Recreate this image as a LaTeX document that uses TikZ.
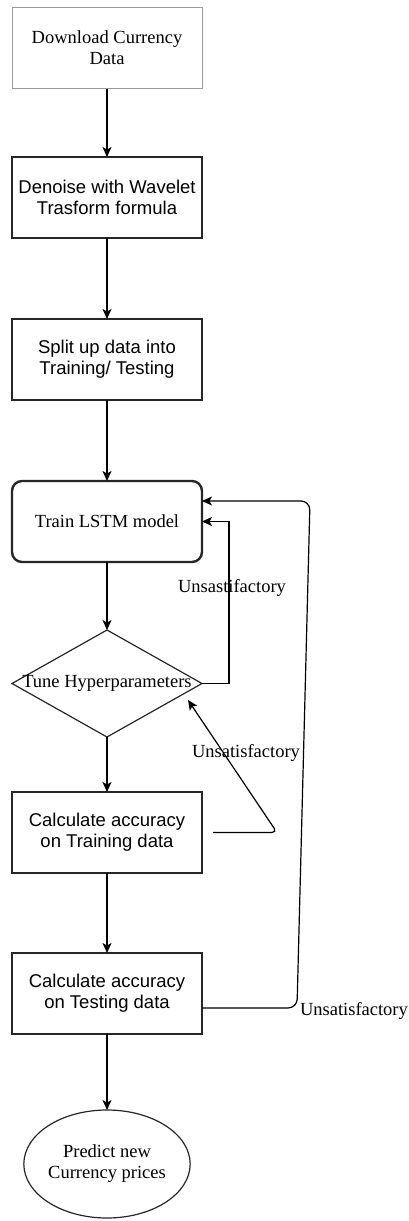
\documentclass[tikz,border=0pt]{standalone}
\usepackage{fontspec}
\setmainfont{Liberation Serif}
\setsansfont{Liberation Sans}
\usetikzlibrary{shapes.geometric,arrows.meta,calc}

\begin{document}
\begin{tikzpicture}[y=1pt, x=1pt, yscale=-1, inner sep=0pt, outer sep=0pt,
	font=\fontsize{18.5}{21}\selectfont,
	box/.style={rectangle, draw=black!85, line width=1.2, minimum width=190, minimum height=81, align=center},
	sansbox/.style={box, font=\sffamily\fontsize{18.5}{21}\selectfont},
	flow/.style={-{Stealth[length=10pt, width=9pt, inset=2.5pt]}, line width=1.2}]
\useasboundingbox (0,0) rectangle (409,1221);
	\node[box, draw=black!40, line width=1] (download) at (107,48) {Download Currency\\Data};
	\node[sansbox] (denoise) at (107,197.5) {Denoise with Wavelet\\Trasform formula};
	\node[sansbox] (split) at (107,359.5) {Split up data into\\Training/ Testing};
	\node[box, line width=2.4, rounded corners=10] (train) at (107,521.5) {Train LSTM model};
	\node[diamond, draw=black!85, line width=1.2, minimum width=190, minimum height=107] (tune) at (107,683.5) {};
	\node (tunetext) at (107,683.5) {Tune Hyperparameters};
	\node[sansbox] (trainacc) at (107,832.5) {Calculate accuracy\\on Training data};
	\node[sansbox] (testacc) at (107,993.5) {Calculate accuracy\\on Testing data};
	\node[ellipse, draw=black!85, line width=1.2, minimum width=164, minimum height=108, align=center] (predict) at (107,1164) {Predict new\\Currency prices};
	\draw[flow] (download) -- (denoise);
	\draw[flow] (denoise) -- (split);
	\draw[flow] (split) -- (train);
	\draw[flow] (train) -- (tune);
	\draw[flow] (tune) -- (trainacc);
	\draw[flow] (trainacc) -- (testacc);
	\draw[flow] (testacc) -- (predict);
	% feedback loops
	\coordinate (loopa) at (229,521.5);
	\draw[flow] (tune.east) -| (loopa) -- (train.east);
	\coordinate (loopb) at (277,832.5);
	\coordinate (tunehit) at (188,700);
	\draw[flow, rounded corners=5] ($(trainacc.east)+(11,0)$) -- (loopb) -- (tunehit);
	\coordinate (loopc) at (297,1008);
	\coordinate (loopd) at (310,501);
	\draw[flow, rounded corners=9] ($(testacc.east)+(0,14.5)$) -- (loopc) -- (loopd) -- ($(train.east)+(0,-20.5)$);
	\node (unsat1) at (232,588) {Unsastifactory};
	\node (unsat2) at (246,753) {Unsatisfactory};
	\node[anchor=west] (unsat3) at (300,1011) {Unsatisfactory};
\end{tikzpicture}
\end{document}
